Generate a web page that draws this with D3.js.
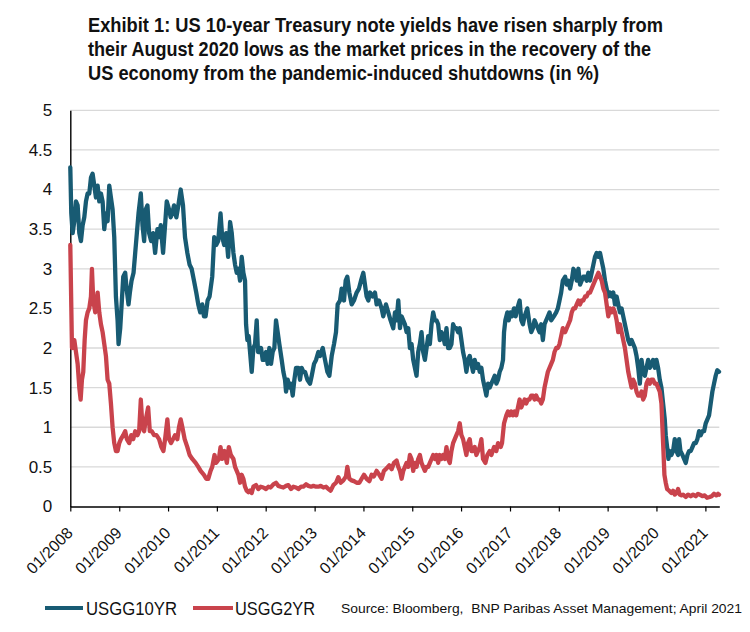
<!DOCTYPE html>
<html><head><meta charset="utf-8">
<script src="https://cdn.jsdelivr.net/npm/d3@7"></script>
<style>body{margin:0;background:#fff}</style>
</head><body><svg id="c" width="750" height="632"></svg>
<script>
const titleLines = [
  "Exhibit 1: US 10-year Treasury note yields have risen sharply from",
  "their August 2020 lows as the market prices in the recovery of the",
  "US economy from the pandemic-induced shutdowns (in %)"
];
const yTicks = [0,0.5,1,1.5,2,2.5,3,3.5,4,4.5,5];
const xTickYears = [2008,2009,2010,2011,2012,2013,2014,2015,2016,2017,2018,2019,2020,2021];
const seriesNames = ["USGG10YR","USGG2YR"];
const sourceText = "Source: Bloomberg,  BNP Paribas Asset Management; April 2021";

// USGG10YR (decimal year, %)
const years10 = [2008.000,2008.020,2008.048,2008.082,2008.116,2008.150,2008.184,2008.218,2008.252,2008.286,2008.320,2008.354,2008.388,2008.422,2008.456,2008.490,2008.524,2008.558,2008.592,2008.626,2008.660,2008.694,2008.728,2008.762,2008.796,2008.830,2008.864,2008.898,2008.932,2008.966,2008.986,
2009.020,2009.054,2009.082,2009.122,2009.150,2009.190,2009.218,2009.252,2009.293,2009.327,2009.361,2009.395,2009.442,2009.476,2009.510,2009.544,2009.578,2009.612,2009.653,2009.694,2009.735,2009.782,2009.816,2009.850,2009.898,2009.939,2009.973,
2010.020,2010.054,2010.088,2010.122,2010.170,2010.211,2010.259,2010.306,2010.347,2010.395,2010.442,2010.483,2010.531,2010.578,2010.619,2010.660,2010.701,2010.735,2010.769,2010.810,2010.850,2010.905,2010.946,2010.986,
2011.027,2011.075,2011.109,2011.150,2011.190,2011.231,2011.271,2011.305,2011.339,2011.373,2011.407,2011.441,2011.475,2011.509,2011.543,2011.577,2011.598,2011.625,2011.652,2011.680,2011.714,2011.748,2011.782,2011.816,2011.843,2011.870,2011.905,2011.939,2011.973,
2012.007,2012.041,2012.075,2012.109,2012.143,2012.177,2012.211,2012.245,2012.279,2012.327,2012.361,2012.395,2012.416,2012.450,2012.484,2012.518,2012.552,2012.586,2012.620,2012.668,2012.702,2012.736,2012.770,2012.804,2012.852,2012.907,2012.941,2012.988,
2013.029,2013.077,2013.111,2013.166,2013.213,2013.261,2013.302,2013.350,2013.397,2013.438,2013.472,2013.520,2013.554,2013.602,2013.636,2013.670,2013.711,2013.759,2013.806,2013.861,2013.909,2013.950,2013.997,
2014.031,2014.065,2014.100,2014.134,2014.188,2014.236,2014.270,2014.318,2014.372,2014.406,2014.461,2014.509,2014.556,2014.611,2014.646,2014.680,2014.714,2014.748,2014.782,2014.816,2014.850,2014.884,2014.918,2014.952,2014.986,
2015.020,2015.054,2015.088,2015.122,2015.156,2015.190,2015.224,2015.259,2015.293,2015.327,2015.361,2015.395,2015.429,2015.463,2015.497,2015.531,2015.565,2015.599,2015.633,2015.667,2015.701,2015.735,2015.769,2015.803,2015.837,2015.871,2015.905,2015.939,2015.973,
2016.007,2016.041,2016.075,2016.109,2016.143,2016.177,2016.211,2016.245,2016.279,2016.313,2016.347,2016.381,2016.415,2016.449,2016.483,2016.517,2016.551,2016.585,2016.619,2016.653,2016.687,2016.721,2016.755,2016.789,2016.823,2016.857,2016.878,2016.905,2016.946,2016.973,
2017.007,2017.041,2017.082,2017.116,2017.150,2017.197,2017.231,2017.265,2017.299,2017.354,2017.401,2017.435,2017.469,2017.503,2017.537,2017.571,2017.605,2017.639,2017.673,2017.707,2017.741,2017.776,2017.810,2017.844,2017.898,2017.946,2017.980,
2018.014,2018.048,2018.082,2018.129,2018.163,2018.197,2018.231,2018.265,2018.299,2018.333,2018.367,2018.401,2018.435,2018.469,2018.503,2018.537,2018.571,2018.605,2018.639,2018.673,2018.707,2018.741,2018.776,2018.810,2018.844,2018.878,2018.912,2018.946,2018.980,
2019.014,2019.048,2019.082,2019.116,2019.150,2019.184,2019.218,2019.252,2019.286,2019.320,2019.354,2019.388,2019.422,2019.456,2019.490,2019.524,2019.558,2019.592,2019.626,2019.660,2019.694,2019.728,2019.762,2019.796,2019.830,2019.864,2019.898,2019.932,2019.966,
2020.000,2020.034,2020.068,2020.102,2020.136,2020.170,2020.190,2020.218,2020.245,2020.272,2020.306,2020.340,2020.374,2020.408,2020.442,2020.463,2020.490,2020.531,2020.565,2020.599,2020.633,2020.667,2020.701,2020.735,2020.769,2020.803,2020.837,2020.871,2020.905,2020.939,2020.973,
2021.007,2021.041,2021.075,2021.109,2021.143,2021.177,2021.211,2021.245,2021.279];
const usgg10 = [4.28,3.7,3.45,3.6,3.85,3.8,3.45,3.35,3.55,3.65,3.85,3.95,3.95,4.15,4.2,4.05,3.9,4.05,3.85,3.95,3.85,3.5,3.7,3.6,4.05,3.9,3.75,3.4,2.65,2.35,2.05,
2.25,2.6,2.9,2.95,2.75,2.55,2.7,2.85,2.95,3.2,3.45,3.7,3.95,3.55,3.35,3.75,3.8,3.45,3.35,3.45,3.2,3.5,3.4,3.55,3.2,3.55,3.85,
3.75,3.65,3.7,3.8,3.65,3.8,4.0,3.8,3.4,3.2,3.05,3.0,2.85,2.7,2.55,2.45,2.55,2.4,2.4,2.6,2.65,2.9,3.4,3.3,
3.35,3.7,3.4,3.3,3.45,3.15,3.59,3.45,3.2,3.05,2.95,3.0,2.85,3.15,2.95,2.85,2.3,2.1,2.15,1.95,1.7,2.0,2.05,2.35,1.95,1.95,2.0,1.85,1.85,
1.95,1.8,2.0,1.8,1.95,2.0,2.35,2.2,2.05,1.85,1.7,1.6,1.45,1.6,1.5,1.55,1.4,1.6,1.75,1.75,1.6,1.75,1.7,1.7,1.6,1.55,1.65,1.8,
1.85,1.95,1.9,2.0,1.85,1.7,1.65,1.9,2.05,2.2,2.55,2.6,2.75,2.6,2.85,2.9,2.7,2.55,2.6,2.7,2.75,2.85,2.95,
2.8,2.65,2.6,2.7,2.65,2.7,2.55,2.6,2.5,2.4,2.55,2.45,2.35,2.25,2.45,2.35,2.6,2.25,2.4,2.35,2.3,2.2,2.25,2.0,2.05,
1.85,1.75,1.65,1.95,2.05,2.2,1.95,1.85,2.0,2.15,2.05,2.3,2.45,2.35,2.35,2.3,2.1,2.2,2.15,2.05,2.25,2.0,2.0,2.05,2.3,2.25,2.25,2.2,2.25,
2.1,1.95,1.85,1.7,1.85,1.9,1.8,1.7,1.85,1.75,1.8,1.7,1.75,1.6,1.5,1.4,1.55,1.5,1.55,1.6,1.65,1.55,1.6,1.7,1.75,1.85,2.2,2.35,2.45,2.35,
2.45,2.4,2.5,2.4,2.5,2.6,2.35,2.3,2.4,2.5,2.3,2.2,2.25,2.35,2.3,2.25,2.2,2.3,2.1,2.3,2.35,2.4,2.45,2.35,2.4,2.45,2.5,
2.6,2.7,2.85,2.9,2.8,2.85,2.75,2.85,3.0,2.95,2.85,3.0,2.8,2.85,2.9,2.9,2.85,2.95,2.85,2.95,3.05,3.15,3.2,3.15,3.2,3.1,3.0,2.85,2.75,
2.65,2.7,2.65,2.7,2.55,2.65,2.55,2.45,2.5,2.4,2.3,2.2,2.1,2.05,2.1,2.05,2.0,1.9,1.75,1.55,1.85,1.7,1.65,1.75,1.85,1.75,1.8,1.85,1.75,
1.85,1.75,1.6,1.5,1.3,1.1,0.9,0.75,0.6,0.7,0.65,0.7,0.85,0.7,0.65,0.85,0.7,0.65,0.6,0.55,0.65,0.7,0.7,0.75,0.8,0.8,0.85,0.95,0.9,0.95,0.95,
1.05,1.1,1.15,1.3,1.45,1.55,1.65,1.72,1.7];

// USGG2YR (decimal year, %)
const years2 = [2008.000,2008.034,2008.082,2008.116,2008.150,2008.184,2008.211,2008.238,2008.265,2008.293,2008.320,2008.354,2008.388,2008.422,2008.442,2008.469,2008.510,2008.558,2008.592,2008.626,2008.660,2008.694,2008.728,2008.762,2008.796,2008.830,2008.864,2008.898,2008.932,2008.966,
2009.000,2009.034,2009.082,2009.122,2009.156,2009.204,2009.245,2009.286,2009.327,2009.374,2009.408,2009.442,2009.476,2009.510,2009.544,2009.592,2009.626,2009.667,2009.714,2009.762,2009.816,2009.864,2009.905,2009.939,2009.986,
2010.020,2010.061,2010.102,2010.143,2010.190,2010.224,2010.259,2010.293,2010.340,2010.395,2010.442,2010.497,2010.565,2010.619,2010.667,2010.735,2010.782,2010.823,2010.871,2010.905,2010.952,2010.986,
2011.041,2011.075,2011.109,2011.156,2011.204,2011.245,2011.286,2011.339,2011.373,2011.407,2011.441,2011.475,2011.509,2011.543,2011.577,2011.611,2011.646,2011.680,2011.714,2011.748,2011.802,2011.850,2011.898,2011.952,
2012.007,2012.055,2012.102,2012.157,2012.211,2012.259,2012.307,2012.361,2012.416,2012.464,2012.518,2012.566,2012.620,2012.668,2012.723,2012.770,2012.825,2012.873,2012.927,2012.975,
2013.029,2013.077,2013.125,2013.179,2013.234,2013.282,2013.329,2013.384,2013.438,2013.486,2013.534,2013.588,2013.643,2013.670,2013.711,2013.759,2013.806,2013.861,2013.916,2013.963,
2014.011,2014.065,2014.120,2014.168,2014.215,2014.270,2014.325,2014.372,2014.420,2014.474,2014.529,2014.577,2014.624,2014.679,2014.714,2014.748,2014.782,2014.816,2014.850,2014.884,2014.918,2014.952,2014.986,
2015.020,2015.054,2015.088,2015.122,2015.156,2015.190,2015.224,2015.259,2015.293,2015.327,2015.361,2015.395,2015.429,2015.463,2015.497,2015.531,2015.565,2015.599,2015.633,2015.667,2015.701,2015.735,2015.769,2015.803,2015.837,2015.871,2015.905,2015.939,2015.973,
2016.007,2016.041,2016.075,2016.109,2016.143,2016.177,2016.211,2016.245,2016.279,2016.313,2016.347,2016.381,2016.415,2016.449,2016.497,2016.537,2016.585,2016.619,2016.673,2016.721,2016.755,2016.810,2016.837,2016.878,2016.925,2016.959,2016.993,
2017.027,2017.061,2017.095,2017.129,2017.163,2017.197,2017.231,2017.265,2017.299,2017.333,2017.367,2017.401,2017.435,2017.469,2017.503,2017.537,2017.571,2017.605,2017.639,2017.673,2017.707,2017.741,2017.776,2017.810,2017.844,2017.878,2017.912,2017.946,2017.980,
2018.014,2018.048,2018.082,2018.129,2018.163,2018.197,2018.231,2018.265,2018.299,2018.333,2018.367,2018.401,2018.435,2018.469,2018.503,2018.537,2018.571,2018.605,2018.639,2018.673,2018.707,2018.741,2018.776,2018.810,2018.844,2018.878,2018.912,2018.946,2018.980,
2019.014,2019.048,2019.082,2019.116,2019.150,2019.184,2019.218,2019.252,2019.286,2019.320,2019.354,2019.388,2019.422,2019.456,2019.490,2019.524,2019.558,2019.592,2019.626,2019.660,2019.694,2019.728,2019.762,2019.796,2019.830,2019.864,2019.898,2019.932,2019.966,
2020.000,2020.034,2020.068,2020.102,2020.122,2020.143,2020.163,2020.190,2020.218,2020.259,2020.306,2020.340,2020.374,2020.408,2020.442,2020.476,2020.510,2020.544,2020.599,2020.646,2020.701,2020.748,2020.803,2020.850,2020.884,2020.939,2020.986,
2021.034,2021.088,2021.129,2021.177,2021.224,2021.259,2021.279];
const usgg2 = [3.3,2.0,2.1,1.95,1.8,1.5,1.35,1.6,1.7,2.1,2.35,2.45,2.5,2.65,3.0,2.6,2.45,2.7,2.45,2.3,2.2,2.05,1.9,1.6,1.55,1.3,1.0,0.8,0.7,0.7,
0.8,0.85,0.9,0.95,0.85,0.8,0.9,0.85,0.95,0.9,0.95,1.35,1.0,0.95,1.1,1.25,0.95,0.95,0.9,0.9,0.85,0.75,0.7,0.85,1.1,
0.85,0.8,0.85,0.9,0.85,1.0,1.1,1.0,0.85,0.75,0.65,0.6,0.55,0.5,0.45,0.4,0.35,0.35,0.45,0.5,0.65,0.55,
0.6,0.75,0.6,0.7,0.55,0.75,0.65,0.6,0.5,0.45,0.4,0.3,0.4,0.35,0.25,0.2,0.18,0.2,0.17,0.25,0.27,0.22,0.25,0.24,
0.22,0.25,0.24,0.28,0.3,0.26,0.25,0.24,0.26,0.27,0.22,0.25,0.24,0.22,0.25,0.25,0.28,0.26,0.25,0.26,
0.25,0.25,0.26,0.24,0.25,0.22,0.2,0.27,0.3,0.37,0.3,0.33,0.38,0.5,0.35,0.33,0.32,0.3,0.3,0.35,
0.4,0.35,0.32,0.4,0.38,0.45,0.4,0.35,0.45,0.48,0.52,0.47,0.55,0.58,0.5,0.45,0.35,0.45,0.5,0.55,0.5,0.65,0.6,
0.45,0.55,0.5,0.6,0.65,0.55,0.5,0.45,0.5,0.5,0.55,0.6,0.65,0.6,0.65,0.55,0.65,0.6,0.65,0.6,0.75,0.6,0.55,0.7,0.8,0.85,0.9,0.95,1.05,
0.9,0.85,0.75,0.65,0.8,0.85,0.7,0.7,0.75,0.65,0.7,0.75,0.85,0.6,0.55,0.65,0.7,0.65,0.75,0.7,0.8,0.75,0.8,1.05,1.15,1.2,1.15,
1.2,1.15,1.2,1.15,1.25,1.35,1.25,1.3,1.35,1.3,1.35,1.35,1.4,1.4,1.35,1.4,1.35,1.35,1.3,1.35,1.5,1.6,1.7,1.75,1.8,1.85,1.95,2.0,2.0,
2.05,2.15,2.25,2.2,2.25,2.3,2.35,2.45,2.5,2.5,2.55,2.6,2.55,2.6,2.6,2.65,2.65,2.7,2.7,2.75,2.8,2.85,2.9,2.95,2.9,2.85,2.75,2.7,2.55,
2.4,2.5,2.45,2.5,2.45,2.35,2.2,2.3,2.2,2.1,2.0,1.85,1.7,1.6,1.5,1.6,1.55,1.45,1.4,1.4,1.45,1.35,1.4,1.55,1.6,1.55,1.6,1.6,1.55,
1.55,1.5,1.45,1.3,1.0,0.7,0.4,0.3,0.22,0.2,0.17,0.2,0.15,0.17,0.22,0.15,0.14,0.15,0.12,0.15,0.13,0.15,0.13,0.16,0.15,0.13,0.14,
0.11,0.12,0.13,0.16,0.14,0.16,0.15];

const colors = ["#185b73", "#c9434c"];
const narrow = '"Liberation Sans Narrow","Arial Narrow","Liberation Sans",Arial,sans-serif';
const regular = '"Liberation Sans",Arial,sans-serif';

function decToDate(d){
  const yr = Math.floor(d);
  const s = Date.UTC(yr,0,1), e = Date.UTC(yr+1,0,1);
  return new Date(s + (d-yr)*(e-s));
}

const svg = d3.select("#c");
const x = d3.scaleUtc().domain([decToDate(2008), decToDate(2021.285)]).range([70.3, 719.3]);
const y = d3.scaleLinear().domain([0,5]).range([506.5, 110.3]);

// title
const titleW = [575, 563, 511];
svg.append("g").selectAll("text").data(titleLines).join("text")
  .attr("x", 88).attr("y", (d,i)=>31.5 + i*24.3)
  .attr("font-family", narrow).attr("font-weight","bold").attr("font-size", 20)
  .attr("fill","#111")
  .attr("textLength",(d,i)=>titleW[i]).attr("lengthAdjust","spacingAndGlyphs")
  .text(d=>d);

// gridlines
svg.append("g").selectAll("line").data(yTicks.filter(v=>v>0)).join("line")
  .attr("x1", x.range()[0]).attr("x2", x.range()[1])
  .attr("y1", d=>y(d)).attr("y2", d=>y(d))
  .attr("stroke","#d9d9d9").attr("stroke-width",1.3);

// y axis
const ya = svg.append("g").attr("transform",`translate(${x.range()[0]},0)`)
  .call(d3.axisLeft(y).tickValues(yTicks).tickSize(0).tickSizeOuter(0).tickPadding(18).tickFormat(d=>String(d)));
ya.select(".domain").attr("stroke","#000").attr("stroke-width",1.4);
ya.selectAll("text").attr("font-family",regular).attr("font-size",17).attr("fill","#111");

// series
const lineGen = d3.line().x(d=>x(decToDate(d[0]))).y(d=>y(d[1]));
const series = [
  d3.zip(years10, usgg10),
  d3.zip(years2, usgg2)
];
svg.append("g").selectAll("path").data(series).join("path")
  .attr("d", lineGen)
  .attr("fill","none")
  .attr("stroke",(d,i)=>colors[i])
  .attr("stroke-width",4.3)
  .attr("stroke-linejoin","round")
  .attr("stroke-linecap","round");

// x axis
const xa = svg.append("g").attr("transform",`translate(0,${y(0)})`)
  .call(d3.axisBottom(x).tickValues(xTickYears.map(v=>decToDate(v))).tickSize(5).tickSizeOuter(0)
    .tickFormat(d3.utcFormat("%m/%Y")));
xa.select(".domain").attr("stroke","#000").attr("stroke-width",1.4);
xa.selectAll(".tick line").attr("stroke","#000").attr("stroke-width",1.2);
xa.selectAll(".tick text")
  .attr("font-family",regular).attr("font-size",16).attr("fill","#111")
  .attr("text-anchor","end").attr("dy",null).attr("y",null)
  .attr("transform","translate(3,27.5) rotate(-45)");

// legend
const leg = svg.append("g");
const legItems = [
  {x1:45, x2:83, tx:86, tw:91},
  {x1:193, x2:233, tx:235, tw:80}
];
legItems.forEach((it,i)=>{
  leg.append("line").attr("x1",it.x1).attr("x2",it.x2).attr("y1",608).attr("y2",608)
    .attr("stroke",colors[i]).attr("stroke-width",4);
  leg.append("text").attr("x",it.tx).attr("y",615)
    .attr("font-family",narrow).attr("font-size",18.5).attr("fill","#111")
    .attr("textLength",it.tw).attr("lengthAdjust","spacingAndGlyphs")
    .text(seriesNames[i]);
});
leg.append("text").attr("x",341).attr("y",613)
  .attr("font-family",narrow).attr("font-size",13.4).attr("fill","#111")
  .style("white-space","pre")
  .attr("textLength",401).attr("lengthAdjust","spacingAndGlyphs")
  .text(sourceText);
</script>
</body></html>
